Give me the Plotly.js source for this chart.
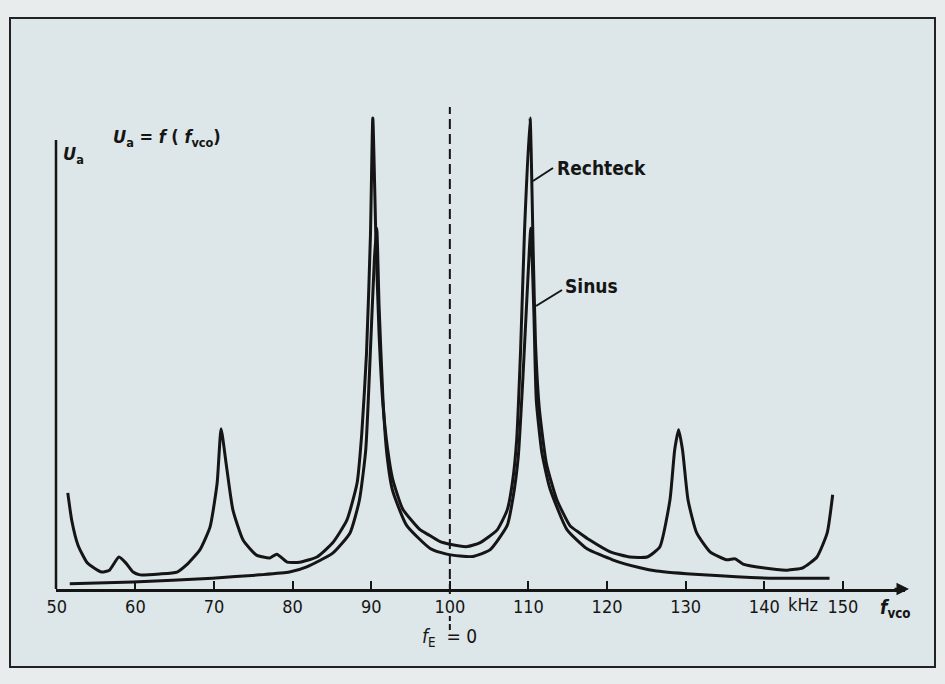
<!DOCTYPE html>
<html>
<head>
<meta charset="utf-8">
<script src="https://cdn.plot.ly/plotly-3.0.1.min.js"></script>
<style>html,body{margin:0;padding:0;background:#e8ecec;}#chart{width:945px;height:684px;}</style>
</head>
<body>
<div id="chart"></div>
<script>
// Frequency f_vco in kHz, output voltage U_a in relative units (peak of Rechteck = 100)
const rechteckF = [51.4, 51.9, 52.7, 53.9, 55.7, 56.7, 57.9, 58.8, 59.7, 60.6, 63.1, 65.3, 66.5, 68.2, 69.5, 70.4, 70.9, 71.6, 72.4, 73.7, 75.4, 77.1, 78.0, 79.3, 80.9, 83.1, 85.1, 86.9, 88.2, 88.8, 89.4, 89.9, 90.2, 90.6, 91.0, 91.5, 92.1, 92.7, 94.0, 96.2, 97.2, 98.7, 100.0, 102.2, 103.8, 106.0, 107.3, 108.0, 108.5, 109.0, 109.5, 110.2, 110.6, 110.9, 111.4, 112.3, 113.6, 115.3, 116.5, 117.8, 120.4, 122.9, 125.1, 126.7, 128.0, 128.6, 129.1, 129.6, 130.3, 131.4, 133.1, 135.2, 136.3, 137.3, 139.8, 142.9, 144.9, 146.7, 148.0, 148.7];
const rechteckU = [20.4, 14.6, 9.3, 5.5, 3.6, 4.0, 6.8, 5.5, 3.6, 3.0, 3.2, 3.6, 5.1, 8.3, 13.2, 22.5, 34.0, 25.9, 16.8, 10.4, 7.2, 6.6, 7.4, 5.7, 5.7, 6.8, 9.8, 14.6, 22.5, 33.1, 50.0, 75.0, 100, 74.0, 54.0, 39.0, 29.5, 23.5, 17.0, 12.6, 11.6, 10.1, 9.5, 9.0, 9.8, 12.5, 16.8, 23.1, 31.6, 50.7, 76.0, 100, 72.0, 52.0, 38.0, 26.5, 19.0, 13.4, 11.9, 10.4, 7.9, 6.8, 6.8, 8.9, 18.9, 29.5, 33.8, 29.5, 18.9, 11.9, 7.9, 6.2, 6.4, 5.3, 4.5, 4.0, 4.5, 6.8, 11.9, 20.0];
const sinusF = [51.65, 59.7, 69.8, 75.8, 79.6, 81.8, 85.1, 87.3, 88.5, 89.3, 89.9, 90.4, 90.7, 91.0, 91.5, 92.0, 92.7, 94.5, 97.5, 99.6, 101.3, 102.9, 105.1, 107.3, 108.0, 108.7, 109.3, 109.9, 110.3, 110.7, 111.0, 111.7, 112.7, 114.9, 117.4, 120.7, 124.2, 126.3, 132.2, 140.7, 148.3];
const sinusU = [1.1, 1.5, 2.3, 3.0, 3.6, 4.7, 7.6, 11.9, 18.9, 29.5, 50.7, 70.0, 76.6, 60.0, 40.0, 28.5, 21.0, 13.5, 8.6, 7.4, 7.0, 6.9, 8.3, 13.5, 19.0, 28.0, 45.0, 65.0, 76.6, 58.0, 40.0, 29.0, 21.5, 12.6, 8.6, 6.2, 4.5, 3.8, 3.0, 2.3, 2.3];
const tickVals = [50, 60, 70, 80, 90, 100, 110, 120, 130, 140, 150];
const tickText = ['50', '60', '70', '80', '90', '100', '110', '120', '130', '140', '150'];

const FONT = '"DejaVu Sans Condensed", "DejaVu Sans", sans-serif';
const INK = '#151515';

const traces = [
  {x: rechteckF, y: rechteckU, mode: 'lines', name: 'Rechteck',
   line: {color: INK, width: 3, shape: 'spline', smoothing: 0.5}, hoverinfo: 'skip'},
  {x: sinusF, y: sinusU, mode: 'lines', name: 'Sinus',
   line: {color: INK, width: 3, shape: 'spline', smoothing: 0.5}, hoverinfo: 'skip'}
];

// plot area: left 56px, right 905px, top 100px, bottom 589px
const W = 849, H = 489;
const px = v => (v - 56) / W;
const py = v => (589 - v) / H;

const layout = {
  width: 945, height: 684,
  margin: {l: 56, r: 40, t: 100, b: 95},
  paper_bgcolor: '#e8ecec',
  plot_bgcolor: 'rgba(0,0,0,0)',
  showlegend: false,
  font: {family: FONT, color: INK, size: 17},
  xaxis: {
    range: [49.9, 157.9], showgrid: false, zeroline: false,
    showline: true, linecolor: INK, linewidth: 2.5,
    tickmode: 'array', tickvals: tickVals, ticktext: tickText,
    ticks: 'inside', ticklen: 8, tickwidth: 2, tickcolor: INK,
    tickfont: {family: FONT, size: 18, color: INK}
  },
  yaxis: {
    range: [0, 103.8], showgrid: false, zeroline: false,
    showline: false, showticklabels: false, ticks: ''
  },
  shapes: [
    {type: 'rect', xref: 'paper', yref: 'paper', x0: px(10), x1: px(935), y0: py(667), y1: py(18),
     fillcolor: '#dde6e8', line: {color: '#222', width: 2}, layer: 'below'},
    {type: 'line', xref: 'paper', yref: 'paper', x0: 0, x1: 0, y0: 0, y1: py(140),
     line: {color: INK, width: 2.5}},
    {type: 'line', xref: 'x', yref: 'paper', x0: 100, x1: 100, y0: py(594), y1: py(107),
     line: {color: INK, width: 2, dash: '10px,5px'}},
    {type: 'line', xref: 'x', yref: 'paper', x0: 100, x1: 100, y0: py(630), y1: py(616),
     line: {color: INK, width: 2, dash: '6px,3px'}},
    {type: 'line', xref: 'paper', yref: 'paper', x0: px(533), x1: px(553), y0: py(181), y1: py(168),
     line: {color: INK, width: 2}},
    {type: 'line', xref: 'paper', yref: 'paper', x0: px(536), x1: px(562), y0: py(306), y1: py(290),
     line: {color: INK, width: 2}}
  ],
  annotations: [
    {xref: 'paper', yref: 'paper', x: px(61), y: py(155), xanchor: 'left', yanchor: 'middle',
     text: '<i><b>U</b></i><sub><b>a</b></sub>', showarrow: false, font: {size: 18}},
    {xref: 'paper', yref: 'paper', x: px(111), y: py(138), xanchor: 'left', yanchor: 'middle',
     text: '<b><i>U</i><sub>a</sub> = <i>f</i> ( <i>f</i><sub>vco</sub>)</b>', showarrow: false, font: {size: 18}},
    {xref: 'paper', yref: 'paper', x: px(555), y: py(168), xanchor: 'left', yanchor: 'middle',
     text: '<b>Rechteck</b>', showarrow: false, font: {size: 19}},
    {xref: 'paper', yref: 'paper', x: px(563), y: py(286), xanchor: 'left', yanchor: 'middle',
     text: '<b>Sinus</b>', showarrow: false, font: {size: 19}},
    {xref: 'paper', yref: 'paper', x: px(786), y: py(604), xanchor: 'left', yanchor: 'middle',
     text: 'kHz', showarrow: false, font: {size: 18}},
    {xref: 'paper', yref: 'paper', x: px(878), y: py(608), xanchor: 'left', yanchor: 'middle',
     text: '<b><i>f</i><sub>vco</sub></b>', showarrow: false, font: {size: 19}},
    {xref: 'x', yref: 'paper', x: 100, y: py(637), xanchor: 'center', yanchor: 'middle',
     text: '<i>f</i><sub>E</sub>  = 0', showarrow: false, font: {size: 19}},
    {xref: 'paper', yref: 'paper', x: px(909), y: py(589), ax: -16, ay: 0, text: '',
     showarrow: true, arrowhead: 2, arrowsize: 1, arrowwidth: 2.5, arrowcolor: INK}
  ]
};

Plotly.newPlot('chart', traces, layout, {staticPlot: true, displayModeBar: false});
</script>
</body>
</html>
